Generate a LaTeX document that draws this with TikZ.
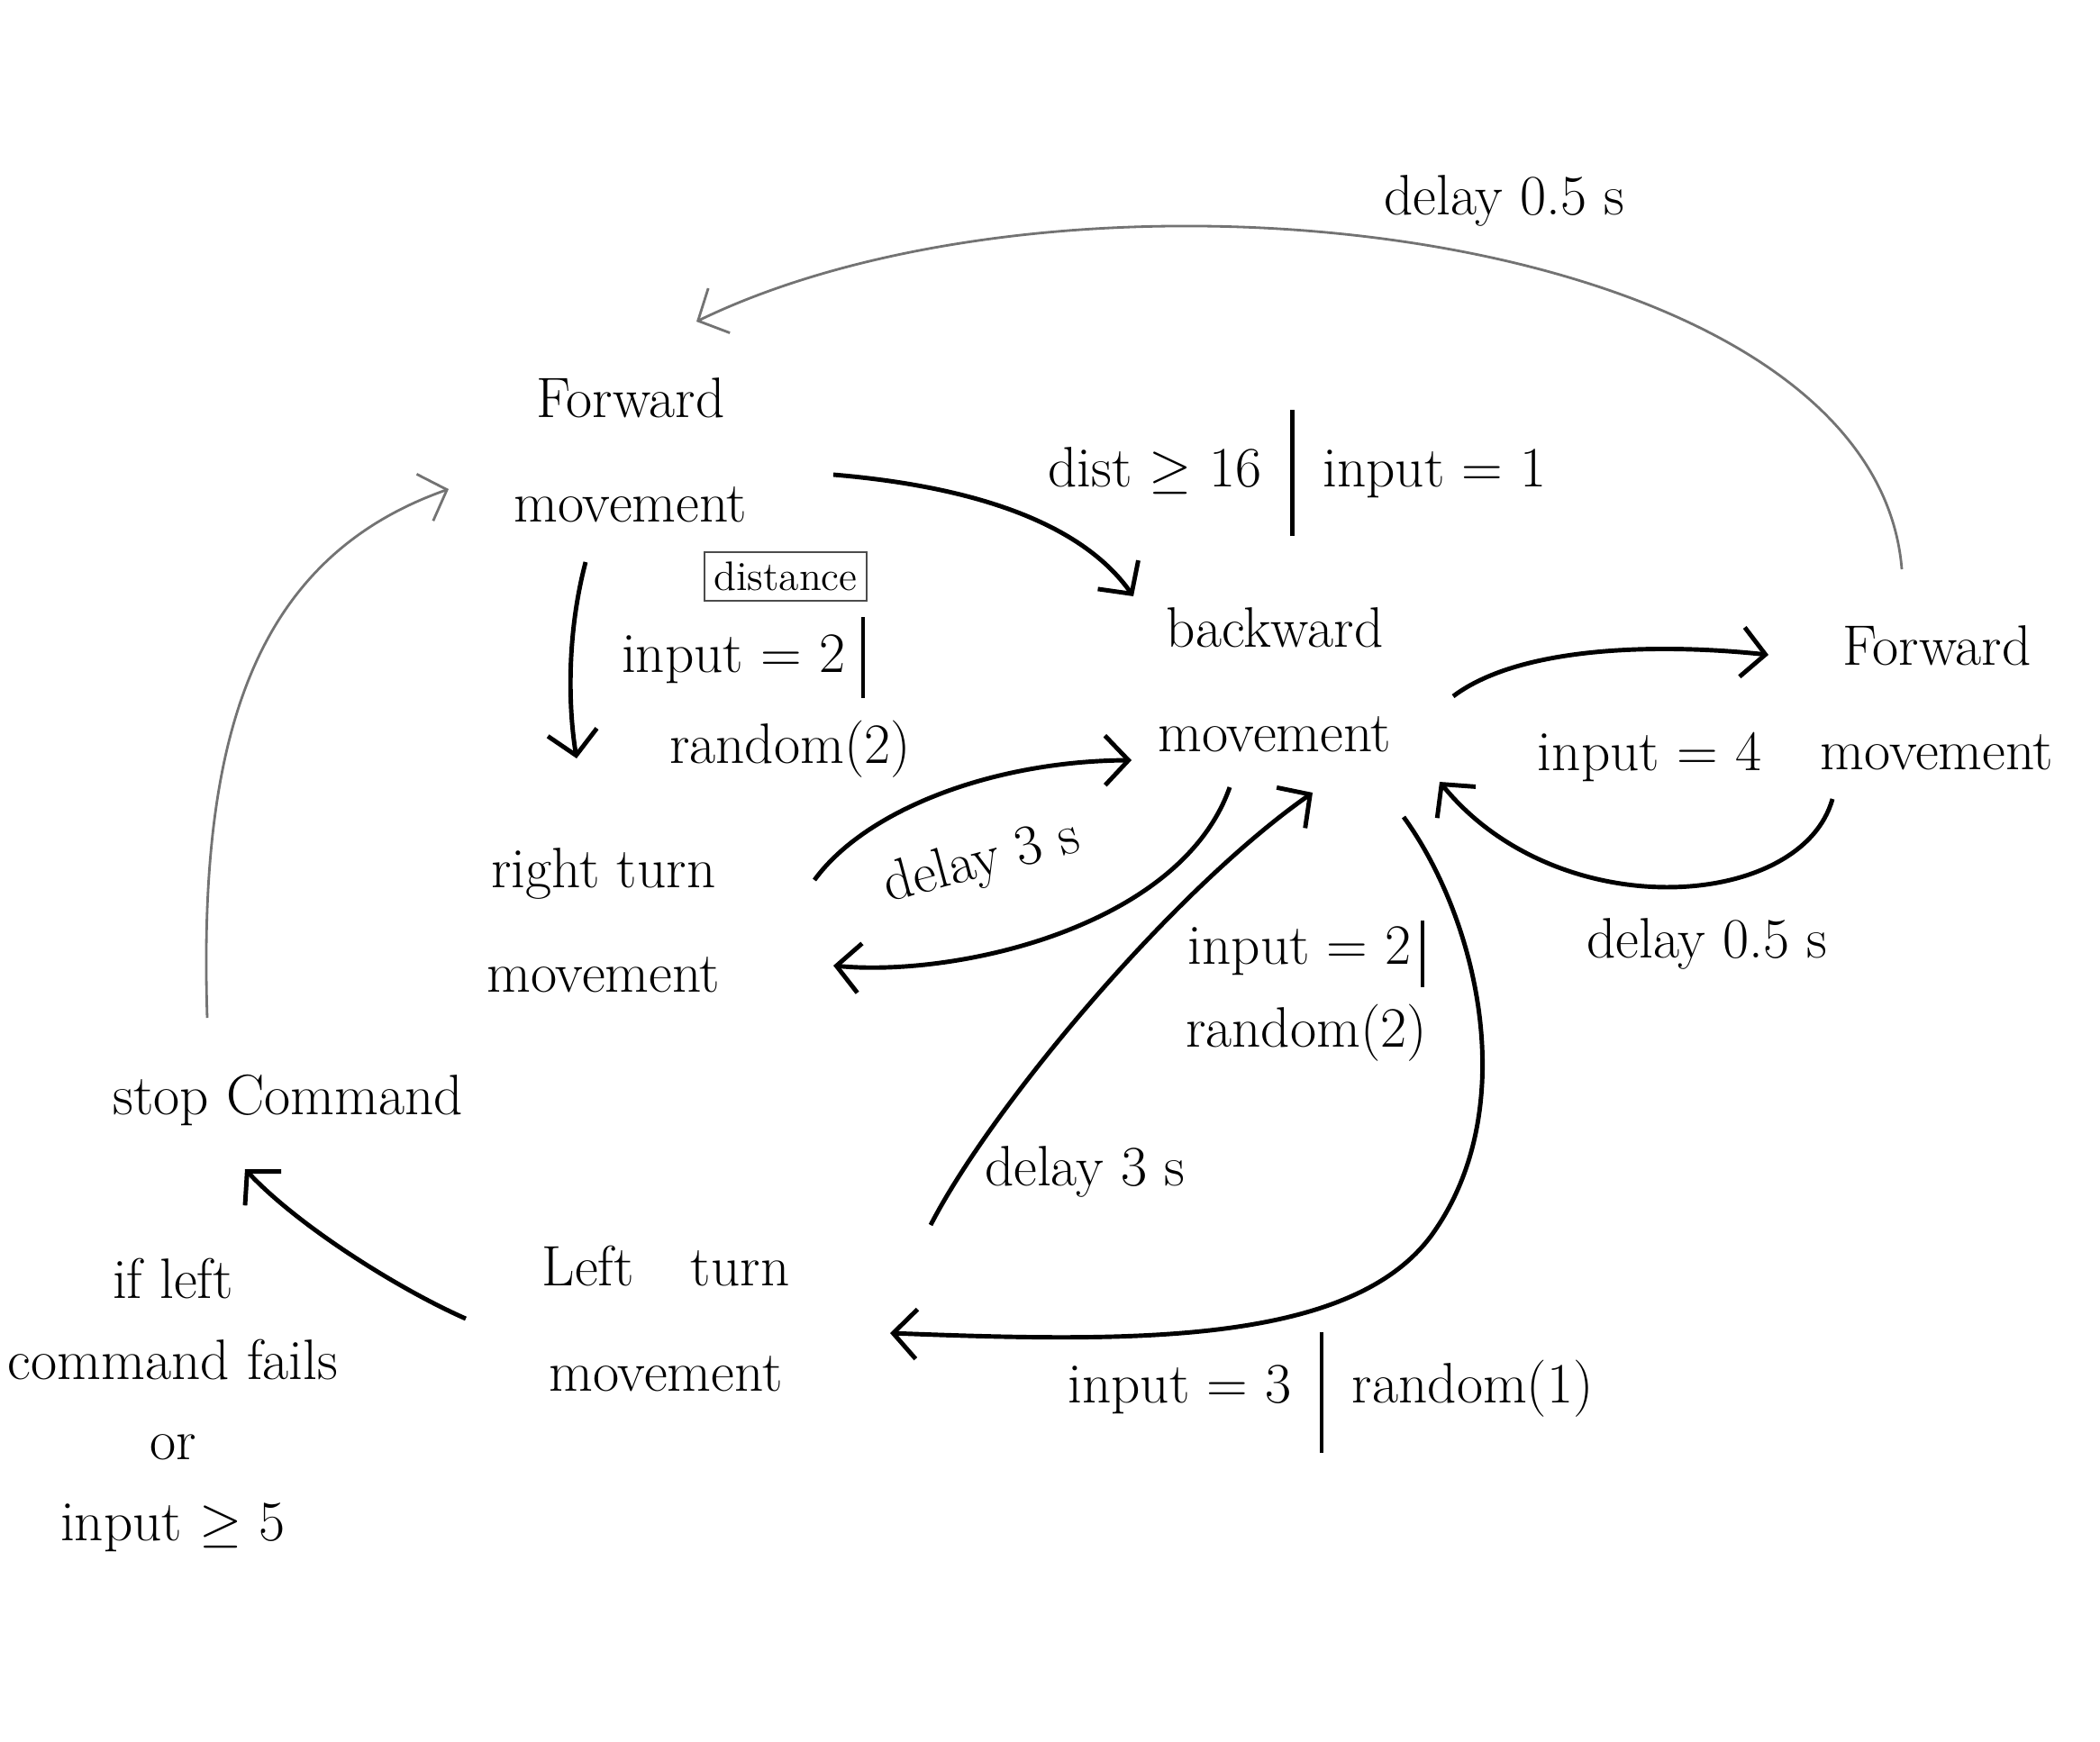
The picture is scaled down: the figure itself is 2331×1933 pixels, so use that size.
\documentclass[tikz,border=0pt]{standalone}
\usetikzlibrary{arrows.meta}
\begin{document}
\begin{tikzpicture}[x=0.01cm,y=-0.01cm,
  state/.style={align=center,font=\fontsize{18}{33}\selectfont,inner sep=0pt},
  lbl/.style={font=\fontsize{18}{26}\selectfont,inner sep=0pt,align=center},
  small/.style={font=\fontsize{13}{15}\selectfont},
  trans/.style={line width=1.4pt,-{Straight Barb[length=2.6mm,width=5.5mm]}},
  faint/.style={line width=0.8pt,black!55,-{Straight Barb[length=2.6mm,width=5.5mm]}},
]
\fill[white] (0,0) rectangle (2331,1933);
\useasboundingbox (0,0) rectangle (2331,1933);

% states
\node[state,text depth=0pt] (fl) at (700,500) {Forward\\movement};
\node[state] (bw)   at (1415,755) {backward\\movement};
\node[state] (fr)   at (2150,775) {Forward\\movement};
\node[state] (rt)   at (670,1022) {right turn\\movement};
\node[state] (sc)   at (320,1222) {stop Command};
\node[state] (lt)   at (739,1464) {Left\quad turn\\movement};
\node[lbl,font=\fontsize{18}{25.5}\selectfont] (cond) at (192,1560)
  {if left\\command fails\\or\\input $\geq$ 5};

% transition labels
\node[lbl] (l1) at (1440,525)
  {dist $\geq$ 16\enspace\raisebox{-0.55cm}{\rule{1.3pt}{1.4cm}}\enspace input = 1};
\node[draw,line width=0.6pt,black!70,text=black,small,inner sep=3pt] (dst) at (872,640) {distance};
\node[lbl] (l2a) at (825,730)
  {input = 2\;\raisebox{-0.28cm}{\rule{1.2pt}{0.89cm}}};
\node[lbl] (l2b) at (877,832) {random(2)};
\node[lbl] (l3) at (1670,223) {delay 0.5 s};
\node[lbl] (l4) at (1831,840) {input = 4};
\node[lbl] (l5) at (1895,1048) {delay 0.5 s};
\node[lbl,rotate=15] (l6) at (1090,958) {delay 3 s};
\node[lbl] (l7) at (1450,1100)
  {input = 2\,\raisebox{-0.25cm}{\rule{1.2pt}{0.74cm}}\\random(2)};
\node[lbl] (l8) at (1204,1301) {delay 3 s};
\node[lbl] (l9) at (1477,1546)
  {input = 3\enspace\raisebox{-0.55cm}{\rule{1.2pt}{1.33cm}}\enspace random(1)};

% transitions
\draw[trans] ([shift={(225,27)}]fl.center)
  .. controls (1080,540) and (1200,580) .. ([shift={(-157,-93)}]bw.center);
\draw[trans] ([shift={(-50,124)}]fl.center)
  .. controls (630,700) and (630,780) .. ([shift={(-30,-180)}]rt.center);
\draw[trans] ([shift={(198,18)}]bw.center)
  .. controls (1690,715) and (1850,715) .. ([shift={(-187,-48)}]fr.center);
\draw[trans] ([shift={(-116,112)}]fr.center)
  .. controls (2000,1010) and (1730,1030) .. ([shift={(183,113)}]bw.center);
\draw[faint] ([shift={(-39,-143)}]fr.center)
  .. controls (2080,250) and (1200,150) .. ([shift={(73,-143)}]fl.center);
\draw[trans] ([shift={(234,-45)}]rt.center)
  .. controls (960,900) and (1100,845) .. ([shift={(-159,89)}]bw.center);
\draw[trans] ([shift={(-50,119)}]bw.center)
  .. controls (1310,1030) and (1060,1085) .. ([shift={(255,50)}]rt.center);
\draw[trans] ([shift={(294,-104)}]lt.center)
  .. controls (1100,1230) and (1300,990) .. ([shift={(42,125)}]bw.center);
\draw[trans] ([shift={(143,152)}]bw.center)
  .. controls (1640,1020) and (1690,1230) .. (1590,1370)
  .. controls (1500,1495) and (1250,1490) .. ([shift={(249,16)}]lt.center);
\draw[trans] ([shift={(-222,0)}]lt.center)
  .. controls (440,1430) and (330,1360) .. ([shift={(-48,76)}]sc.center);
\draw[faint] ([shift={(-90,-92)}]sc.center)
  .. controls (220,820) and (280,620) .. ([shift={(-202,43)}]fl.center);
\end{tikzpicture}
\end{document}
